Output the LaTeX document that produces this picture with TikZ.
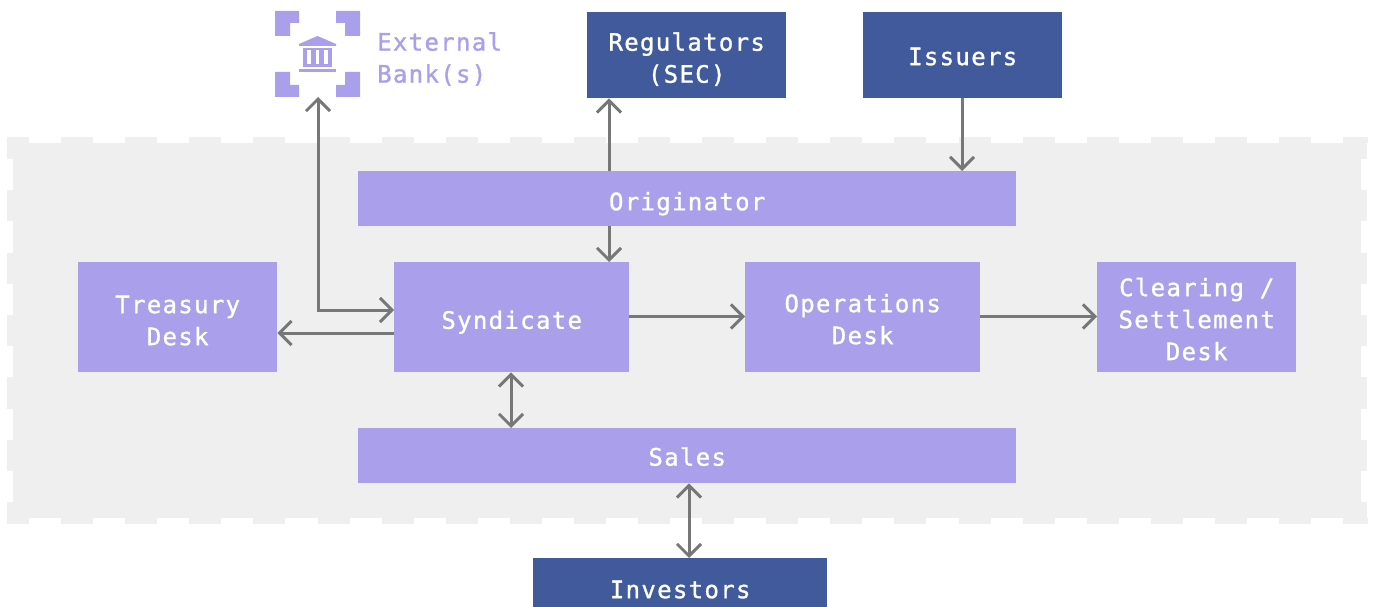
\documentclass[tikz,border=0pt]{standalone}
\usepackage{fontspec}
\usetikzlibrary{arrows.meta,calc}
\setmainfont[LetterSpace=5.5,FakeBold=1.2]{DejaVu Sans Mono}
\definecolor{lav}{HTML}{A99FEA}
\definecolor{navy}{HTML}{405A9C}
\definecolor{panel}{HTML}{EFEFEF}
\definecolor{conn}{HTML}{777777}
\tikzset{
  x=1pt,y=-1pt,
  box/.style={draw=none,inner sep=0pt,align=center,text=white,font=\fontsize{24}{32}\selectfont},
  inner box/.style={box,fill=lav},
  outer box/.style={box,fill=navy},
  link/.style={draw=conn,line width=3pt},
  >={Straight Barb[length=12pt,width=24pt,line width=3pt]},
  dashh/.style={draw=panel,line width=6pt,dash pattern=on 32pt off 32.1pt,dash phase=10pt},
  dashv/.style={draw=panel,line width=6pt,dash pattern=on 31.2pt off 31.2pt,dash phase=9.2pt},
}
\newcommand{\rbox}[7]{\node[#1,minimum width=#4pt,minimum height=#5pt,anchor=north west] (#2) at (#3) {\rule{0pt}{#6pt}#7};}
\begin{document}
\begin{tikzpicture}
\useasboundingbox (0,0) rectangle (1375,607);
\clip (0,0) rectangle (1375,607);
% panel
\fill[panel] (13,143) rectangle (1361,518);
\draw[dashh] (7,140) -- (1368,140);
\draw[dashh] (7,521) -- (1368,521);
\draw[dashv] (10,137) -- (10,524);
\draw[dashv] (1364,137) -- (1364,524);
% nodes
\rbox{outer box}{reg}{587,12}{199}{86}{26.2}{Regulators\\(SEC)}
\rbox{outer box}{iss}{863,12}{199}{86}{20.2}{Issuers}
\rbox{inner box}{orig}{358,171}{658}{55}{28.2}{Originator}
\rbox{inner box}{tre}{78,262}{199}{110}{24.2}{Treasury\\Desk}
\rbox{inner box}{syn}{394,262}{235}{110}{28.2}{Syndicate}
\rbox{inner box}{ops}{745,262}{235}{110}{22.2}{Operations\\Desk}
\rbox{inner box}{clr}{1097,262}{199}{110}{22.2}{Clearing /\\Settlement\\Desk}
\rbox{inner box}{sal}{358,428}{658}{55}{20.2}{Sales}
\rbox{outer box}{inv}{533,558}{294}{62}{18.2}{Investors}
% bank icon
\coordinate (bank) at (318,97);
\fill[lav] (275,11) -- (299,11) -- (299,23) -- (290,23) -- (290,36) -- (275,36) -- cycle;
\fill[lav] (360,11) -- (336,11) -- (336,23) -- (345,23) -- (345,36) -- (360,36) -- cycle;
\fill[lav] (275,97) -- (299,97) -- (299,85) -- (290,85) -- (290,72) -- (275,72) -- cycle;
\fill[lav] (360,97) -- (336,97) -- (336,85) -- (345,85) -- (345,72) -- (360,72) -- cycle;
\fill[lav] (317.5,36) -- (336,44) -- (336,46) -- (299,46) -- (299,44) -- cycle;
\fill[lav] (303,48) rectangle (332,50);
\foreach \c in {303,311.2,319.4,327.6} {\fill[lav] (\c,50) rectangle ++(4.4,14);}
\fill[lav] (303,64) rectangle (332,67);
\fill[lav] (299,69) rectangle (336,72.5);
\node[inner sep=0pt,anchor=west,align=left,text=lav,font=\fontsize{24}{32}\selectfont] (banklabel) at (377,59) {External\\Bank(s)};
% connectors
\draw[link,<->] (bank) -- (bank |- {$(syn.north)+(0,48)$}) -- ($(syn.north west)+(0,48)$);
\draw[link,->] ($(syn.north west)+(0,71)$) -- ($(tre.north east)+(0,71)$);
\draw[link,->] ($(syn.north east)+(0,54.5)$) -- ($(ops.north west)+(0,54.5)$);
\draw[link,->] ($(ops.north east)+(0,54.5)$) -- ($(clr.north west)+(0,54.5)$);
\draw[link,->] ($(iss.south west)+(99,0)$) -- ($(orig.north west)+(604,0)$);
\draw[link,->] ($(orig.north west)+(251,0)$) -- ($(reg.south west)+(22,0)$);
\draw[link,->] ($(orig.south west)+(251,0)$) -- ($(syn.north west)+(215,0)$);
\draw[link,<->] ($(syn.south west)+(117,0)$) -- ($(sal.north west)+(153,0)$);
\draw[link,<->] ($(sal.south west)+(331,0)$) -- ($(inv.north west)+(156,0)$);
\end{tikzpicture}
\end{document}
